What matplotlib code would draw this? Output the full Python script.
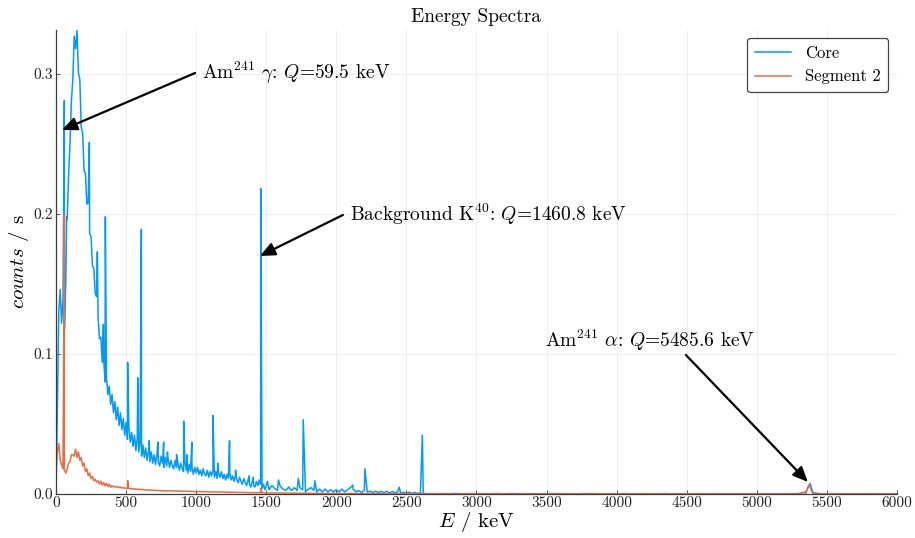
import numpy as np
import matplotlib
matplotlib.use("Agg")
import matplotlib.pyplot as plt

# energy grids (keV)
grid_lo = np.arange(0, 1501, 10)
grid_mid = np.arange(1520, 2701, 20)
grid_hi = np.arange(2750, 6001, 50)

# Core continuum, counts / s
core_lo = [
    0.000, 0.062, 0.131, 0.146, 0.122, 0.139, 0.118, 0.152, 0.196, 0.228,
    0.251, 0.281, 0.296, 0.327, 0.318, 0.331, 0.301, 0.296, 0.262, 0.258,
    0.231, 0.229, 0.207, 0.208, 0.186, 0.184, 0.163, 0.161, 0.143, 0.141,
    0.127, 0.111, 0.112, 0.094, 0.097, 0.080, 0.084, 0.071, 0.077, 0.064,
    0.071, 0.058, 0.066, 0.053, 0.062, 0.049, 0.058, 0.046, 0.054, 0.042,
    0.051, 0.039, 0.048, 0.037, 0.044, 0.034, 0.042, 0.031, 0.040, 0.030,
    0.037, 0.027, 0.035, 0.026, 0.033, 0.024, 0.031, 0.023, 0.030, 0.022,
    0.028,
    0.021, 0.028, 0.023, 0.020, 0.027, 0.022, 0.019, 0.026, 0.020, 0.025,
    0.019, 0.024, 0.020, 0.018, 0.024, 0.019, 0.022, 0.017, 0.022, 0.018,
    0.016, 0.022, 0.017, 0.015, 0.021, 0.016, 0.019, 0.014, 0.019, 0.015,
    0.019, 0.014, 0.017, 0.013, 0.018, 0.014, 0.013, 0.017, 0.012, 0.016,
    0.013, 0.017, 0.012, 0.016, 0.011, 0.015, 0.012, 0.016, 0.011, 0.014,
    0.010, 0.014, 0.011, 0.015, 0.010, 0.013, 0.009, 0.013, 0.010, 0.008,
    0.012, 0.009, 0.007, 0.011, 0.008, 0.006, 0.010, 0.007, 0.005, 0.009,
    0.006, 0.005, 0.009, 0.006, 0.010, 0.007, 0.004, 0.007, 0.003, 0.006,
]
core_mid = [
    0.003, 0.006, 0.004, 0.0025, 0.0055, 0.0035, 0.0025, 0.005, 0.0025, 0.0045,
    0.0025, 0.0045, 0.003, 0.0015, 0.0035, 0.0045, 0.0025, 0.0015, 0.0035, 0.0015,
    0.0035, 0.0015, 0.003, 0.0015, 0.003, 0.0015, 0.0035, 0.0015, 0.003, 0.0045,
    0.0035, 0.0015, 0.0025, 0.001, 0.0025, 0.0015, 0.002, 0.001, 0.002, 0.001,
    0.002, 0.0007, 0.002, 0.0007, 0.0018, 0.0006, 0.0018, 0.0006, 0.0012, 0.0005,
    0.0013, 0.0004, 0.0011, 0.0004, 0.001, 0.0004, 0.0003, 0.0002, 0.0003, 0.0002,
]
core_hi = [
    0.0003, 0.0002, 0.0004, 0.0002, 0.0003, 0.0002, 0.0003, 0.0001, 0.0003, 0.0002,
    0.0003, 0.0002, 0.0002, 0.0003, 0.0001, 0.0002, 0.0003, 0.0002, 0.0002, 0.0001,
    0.0002, 0.0003, 0.0002, 0.0001, 0.0002, 0.0002, 0.0003, 0.0001, 0.0002, 0.0002,
    0.0001, 0.0002, 0.0003, 0.0001, 0.0002, 0.0001, 0.0002, 0.0002, 0.0001, 0.0002,
    0.0002, 0.0001, 0.0002, 0.0001, 0.0002, 0.0002, 0.0001, 0.0002, 0.0001, 0.0002,
    0.0002, 0.0003, 0.0012, 0.0010, 0.0002, 0.0001, 0.0002, 0.0001, 0.0002, 0.0001,
    0.0001, 0.0002, 0.0001, 0.0001, 0.0002, 0.0001,
]
# Core gamma lines
core_peak_e = [59.5, 76, 238, 295, 338, 352, 511, 583, 609, 665, 727, 768, 795,
               860, 911, 935, 969, 1120, 1155, 1238, 1281, 1378, 1408, 1460.8,
               1509, 1588, 1729, 1764, 1847, 2118, 2204, 2448, 2614, 5380]
core_peak_c = [0.281, 0.198, 0.251, 0.173, 0.121, 0.198, 0.094, 0.083, 0.189,
               0.038, 0.037, 0.037, 0.030, 0.028, 0.052, 0.028, 0.037, 0.056,
               0.022, 0.038, 0.017, 0.013, 0.012, 0.218, 0.009, 0.010, 0.011,
               0.053, 0.0095, 0.0064, 0.018, 0.0048, 0.042, 0.0076]

# Segment 2 continuum
seg_lo = [
    0.018, 0.030, 0.036, 0.024, 0.021, 0.018, 0.017, 0.015, 0.018, 0.022,
    0.023, 0.028, 0.028, 0.027, 0.032, 0.026, 0.030, 0.024, 0.026, 0.020,
    0.022, 0.016, 0.018, 0.013, 0.015, 0.011, 0.0125, 0.0095, 0.0105, 0.0085,
    0.0095, 0.007, 0.0092, 0.0063, 0.0082, 0.0058, 0.0077, 0.0053, 0.0072, 0.0048,
    0.006, 0.005, 0.0055, 0.0048, 0.0053, 0.0045, 0.005, 0.0042, 0.0047, 0.004,
    0.0044, 0.0038, 0.0042, 0.0036, 0.004, 0.0034, 0.0038, 0.0033, 0.0036, 0.0031,
    0.0034, 0.003, 0.0033, 0.0028, 0.0031, 0.0027, 0.003, 0.0026, 0.0029, 0.0025,
    0.0028,
    0.0024, 0.0027, 0.0023, 0.0026, 0.0022, 0.0025, 0.0022, 0.0024, 0.0021, 0.0024,
    0.0021, 0.0023, 0.0020, 0.0023, 0.0020, 0.0022, 0.0019, 0.0022, 0.0019, 0.0021,
    0.0018, 0.0021, 0.0018, 0.0020, 0.0017, 0.0020, 0.0017, 0.0019, 0.0016, 0.0019,
    0.0016, 0.0018, 0.0016, 0.0018, 0.0015, 0.0017, 0.0015, 0.0017, 0.0014, 0.0016,
    0.0014, 0.0016, 0.0014, 0.0015, 0.0013, 0.0015, 0.0013, 0.0015, 0.0012, 0.0014,
    0.0012, 0.0014, 0.0012, 0.0013, 0.0011, 0.0013, 0.0011, 0.0013, 0.0011, 0.0012,
    0.0010, 0.0012, 0.0010, 0.0011, 0.0010, 0.0011, 0.0009, 0.0011, 0.0009, 0.0010,
    0.0009, 0.0010, 0.0008, 0.0010, 0.0008, 0.0009, 0.0008, 0.0009, 0.0007, 0.0008,
]
seg_mid = [
    0.0007, 0.0008, 0.0006, 0.0008, 0.0006, 0.0007, 0.0006, 0.0007, 0.0005, 0.0007,
    0.0005, 0.0006, 0.0005, 0.0006, 0.0004, 0.0006, 0.0004, 0.0005, 0.0004, 0.0005,
    0.0004, 0.0005, 0.0004, 0.0004, 0.0003, 0.0005, 0.0003, 0.0004, 0.0003, 0.0004,
    0.0003, 0.0004, 0.0003, 0.0003, 0.0002, 0.0004, 0.0003, 0.0003, 0.0002, 0.0003,
    0.0002, 0.0003, 0.0002, 0.0003, 0.0002, 0.0002, 0.0003, 0.0002, 0.0002, 0.0002,
    0.0002, 0.0002, 0.0001, 0.0002, 0.0002, 0.0001, 0.0002, 0.0001, 0.0002, 0.0001,
]
seg_hi = [
    0.0001, 0.0002, 0.0001, 0.0001, 0.0002, 0.0001, 0.0001, 0.0001, 0.0002, 0.0001,
    0.0001, 0.0001, 0.0002, 0.0001, 0.0001, 0.0001, 0.0001, 0.0002, 0.0001, 0.0001,
    0.0001, 0.0001, 0.0001, 0.0002, 0.0001, 0.0001, 0.0001, 0.0001, 0.0001, 0.0002,
    0.0001, 0.0001, 0.0001, 0.0001, 0.0001, 0.0001, 0.0002, 0.0001, 0.0001, 0.0001,
    0.0001, 0.0001, 0.0001, 0.0001, 0.0001, 0.0001, 0.0001, 0.0001, 0.0001, 0.0001,
    0.0001, 0.0002, 0.0004, 0.0003, 0.0001, 0.0001, 0.0001, 0.0001, 0.0001, 0.0001,
    0.0001, 0.0001, 0.0001, 0.0001, 0.0001, 0.0001,
]
seg_peak_e = [59.5, 511, 1460.8, 5343, 5358, 5366, 5373, 5381, 5390]
seg_peak_c = [0.200, 0.0095, 0.004, 0.0014, 0.0030, 0.0052, 0.0064, 0.0048, 0.0020]

# annotations: label, arrow tail (x, y), arrow head (x, y), text position
notes = [
    ("Am$^{241}$ $\\gamma$: $Q$=59.5 keV", (992, 0.3007), (43, 0.260), (1045, 0.3007)),
    ("Background K$^{40}$: $Q$=1460.8 keV", (2047, 0.1993), (1455, 0.170), (2095, 0.2000)),
    ("Am$^{241}$ $\\alpha$: $Q$=5485.6 keV", (4494, 0.0993), (5364, 0.0086), (3490, 0.1100)),
]


def spectrum(grids, parts, peak_e, peak_c):
    e = np.concatenate(list(grids) + [np.asarray(peak_e, float)])
    c = np.concatenate([np.asarray(p, float) for p in parts] + [np.asarray(peak_c, float)])
    order = np.argsort(e, kind="stable")
    return e[order], c[order]


core_e, core_c = spectrum((grid_lo, grid_mid, grid_hi), (core_lo, core_mid, core_hi),
                          core_peak_e, core_peak_c)
seg_e, seg_c = spectrum((grid_lo, grid_mid, grid_hi), (seg_lo, seg_mid, seg_hi),
                        seg_peak_e, seg_peak_c)

plt.rcParams["font.family"] = "cmr10"
plt.rcParams["mathtext.fontset"] = "cm"
plt.rcParams["axes.formatter.use_mathtext"] = True

fig = plt.figure(figsize=(9.15, 5.38), dpi=100)
ax = fig.add_axes([0.0612, 0.0818, 0.9191, 0.8624])

ax.plot(core_e, core_c, color="#009AFA", lw=1.1, label="Core")
ax.plot(seg_e, seg_c, color="#E36F47", lw=1.1, label="Segment 2")

ax.set_xlim(0, 6000)
ax.set_ylim(0, 0.3314)
xt = np.arange(0, 6001, 500)
ax.set_xticks(xt, [str(v) for v in xt])
yt = [0.0, 0.1, 0.2, 0.3]
ax.set_yticks(yt, [f"{v:.1f}" for v in yt])
ax.tick_params(direction="in", length=3, width=0.6, labelsize=11, colors="#333333",
               labelcolor="#222222", pad=2)
ax.grid(True, color="#000000", alpha=0.08, lw=0.6)
for s in ("top", "right"):
    ax.spines[s].set_visible(False)
for s in ("left", "bottom"):
    ax.spines[s].set_color("#3a3a3a")
    ax.spines[s].set_linewidth(0.9)

ax.set_title("Energy Spectra", fontsize=14, pad=6)
ax.set_xlabel("$E$ / keV", fontsize=15, labelpad=0)
ax.set_ylabel("$counts$ / s", fontsize=15, labelpad=2)

for label, tail, head, pos in notes:
    ax.annotate("", xy=head, xytext=tail,
                arrowprops=dict(arrowstyle="-|>,head_length=0.45,head_width=0.2",
                                color="black", lw=1.6, shrinkA=0, shrinkB=0,
                                mutation_scale=20))
    ax.text(pos[0], pos[1], label, fontsize=14, ha="left", va="center")

leg = ax.legend(loc="upper right", bbox_to_anchor=(0.9893, 0.9828), borderaxespad=0,
                fontsize=12, frameon=True, fancybox=True, framealpha=1,
                edgecolor="#444444", handlelength=2.2, handletextpad=0.8,
                borderpad=0.45, labelspacing=0.5)
leg.get_frame().set_linewidth(0.9)

fig.savefig("out.png", dpi=100)
